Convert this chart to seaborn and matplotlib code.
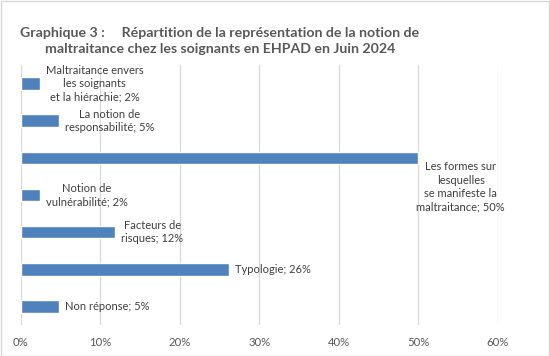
import matplotlib.pyplot as plt
import seaborn as sns
from matplotlib.ticker import PercentFormatter

categories = [
    "Maltraitance envers les soignants et la hiérachie",
    "La notion de responsabilité",
    "Les formes sur lesquelles se manifeste la maltraitance",
    "Notion de vulnérabilité",
    "Facteurs de risques",
    "Typologie",
    "Non réponse",
]
shares = [0.024, 0.048, 0.50, 0.024, 0.119, 0.262, 0.048]
label_texts = [
    "Maltraitance envers\nles soignants\net la hiérachie; 2%",
    "La notion de\nresponsabilité; 5%",
    "Les formes sur\nlesquelles\nse manifeste la\nmaltraitance; 50%",
    "Notion de\nvulnérabilité; 2%",
    "Facteurs de\nrisques; 12%",
    "Typologie; 26%",
    "Non réponse; 5%",
]
x_ticks = [0, 0.1, 0.2, 0.3, 0.4, 0.5, 0.6]

sns.set_theme(style="white")
plt.rcParams["font.family"] = ["Lato", "DejaVu Sans"]

fig = plt.figure(figsize=(5.5, 3.56), dpi=100)
ax = fig.add_axes([0.0376, 0.0871, 0.8678, 0.7303])

sns.barplot(x=shares, y=categories, orient="h", color="#4F81BD",
            width=0.34, saturation=1, ax=ax)

ax.set_xlim(0, 0.6)
ax.set_xticks(x_ticks)
ax.xaxis.set_major_formatter(PercentFormatter(1.0, decimals=0))
ax.grid(axis="x", color="#D9D9D9", linewidth=0.9)
ax.set_axisbelow(True)
ax.set_yticks([])
ax.set_xlabel("")
ax.set_ylabel("")
for s in ax.spines.values():
    s.set_visible(False)
ax.tick_params(axis="x", length=0, pad=9, labelsize=8.2, labelcolor="#595959")

# data labels, the long one is pushed below its bar like in the original
for i, (v, txt) in enumerate(zip(shares, label_texts)):
    dx, dy = 6, 0
    if v > 0.4:
        dx, dy = -2, -29
    ax.annotate(txt, xy=(v, i), xytext=(dx, dy), textcoords="offset pixels",
                ha="left", va="center", multialignment="center",
                fontsize=8.0, color="#404040", linespacing=1.25)

fig.text(0.40, 0.885,
         "Graphique 3 :     Répartition de la représentation de la notion de\n"
         "maltraitance chez les soignants en EHPAD en Juin 2024",
         ha="center", va="center", multialignment="center",
         fontsize=10.2, fontweight="bold", color="#595959", linespacing=1.45)

fig.patches.append(plt.Rectangle((0.001, 0.001), 0.997, 0.996, transform=fig.transFigure,
                                 fill=False, edgecolor="#D9D9D9", linewidth=1))

fig.savefig("out.png", dpi=100)
